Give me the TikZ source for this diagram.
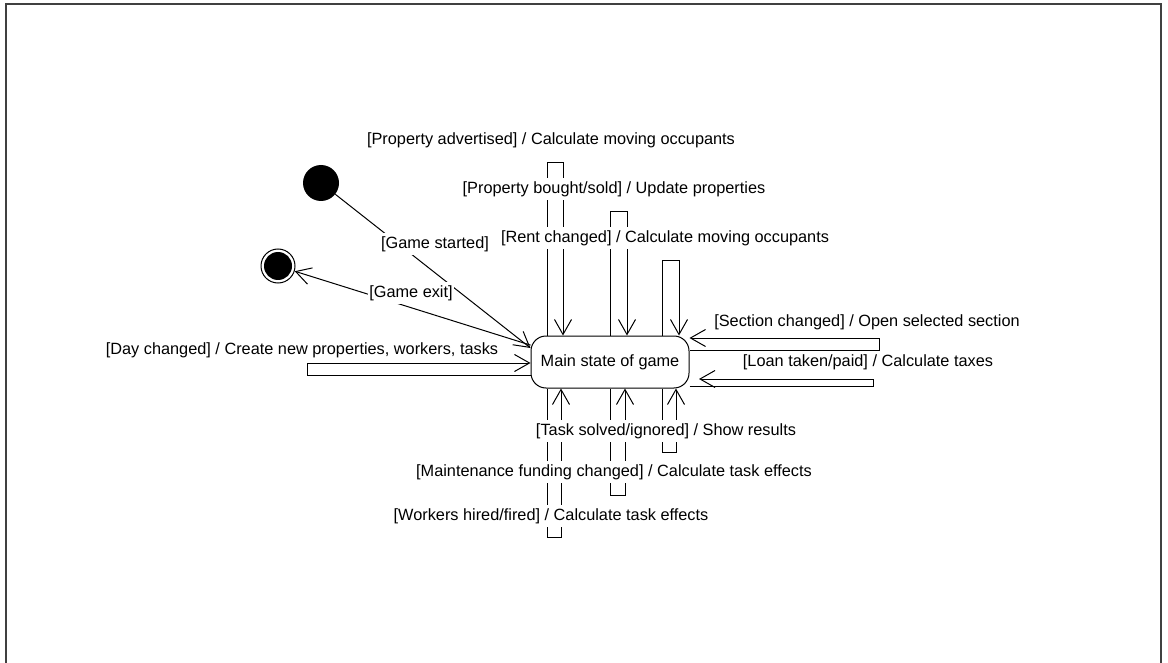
\documentclass[tikz,border=0pt]{standalone}
\usepackage{fontspec}
\setmainfont{Liberation Sans}
\usetikzlibrary{arrows.meta}
\begin{document}
\begin{tikzpicture}[x=1pt,y=-1pt,
        trans/.style={line width=1pt,-{Straight Barb[length=15pt,width=17pt,line width=1pt]}},
        lbl/.style={fill=white,inner xsep=1pt,inner ysep=3pt,font=\fontsize{16.3}{19}\selectfont},
        state/.style={draw,line width=1pt,rounded corners=15pt,minimum width=158pt,minimum height=52pt,font=\fontsize{16.3}{19}\selectfont}]
        % Fix the page
        \useasboundingbox (0,0) rectangle (1168,663);
        \draw[line width=1.3pt,black!75] (6,663) -- (6,4) -- (1161,4) -- (1161,663);

        % Define the states
        \node[state] (main) at (610,362) {Main state of game};
        \node[circle,fill,minimum size=36pt,inner sep=0pt] (init) at (321,183) {};
        \node[circle,draw,line width=1pt,minimum size=34pt,inner sep=0pt] (final) at (278,266) {};
        \fill (final) circle(14pt);
        \coordinate (loantip) at (699,379);

        % Draw start and exit
        \draw[trans] (init) -- (main.170);
        \draw[trans] (main.168) -- (final);

        % Draw the loops above and below
        \foreach \xa/\xb/\ytop in {547/563/163, 610/627/212, 662/679/261}
            \draw[trans] (\xa,0 |- main.north) |- (\xb,\ytop) -- (\xb,0 |- main.north);
        \foreach \xa/\xb/\ybot in {547/561/537, 610/625/495, 662/676/452}
            \draw[trans] (\xa,0 |- main.south) |- (\xb,\ybot) -- (\xb,0 |- main.south);

        % Draw the loops left and right
        \draw[trans] (main.west |- 0,375) -| (307,363) -- (main.west |- 0,363);
        \draw[trans] (main.east |- 0,350) -| (879,338) -- (main.east |- 0,338);
        \draw[trans] (main.east |- 0,386) -| (873,379) -- (loantip);

        % Labels
        \node[lbl] (lbladvert) at (551,140) {[Property advertised] / Calculate moving occupants};
        \node[lbl] (lblbought) at (614,189) {[Property bought/sold] / Update properties};
        \node[lbl] (lblrent) at (665,238) {[Rent changed] / Calculate moving occupants};
        \node[lbl] (lblstart) at (435,244) {[Game started]};
        \node[lbl] (lblexit) at (411,293) {[Game exit]};
        \node[lbl] (lblday) at (302,350) {[Day changed] / Create new properties, workers, tasks};
        \node[lbl] (lblsection) at (867,322) {[Section changed] / Open selected section};
        \node[lbl] (lblloan) at (868,362) {[Loan taken/paid] / Calculate taxes};
        \node[lbl] (lbltask) at (666,431) {[Task solved/ignored] / Show results};
        \node[lbl] (lblfunding) at (614,472) {[Maintenance funding changed] / Calculate task effects};
        \node[lbl] (lblworkers) at (551,516) {[Workers hired/fired] / Calculate task effects};
    \end{tikzpicture}
\end{document}
